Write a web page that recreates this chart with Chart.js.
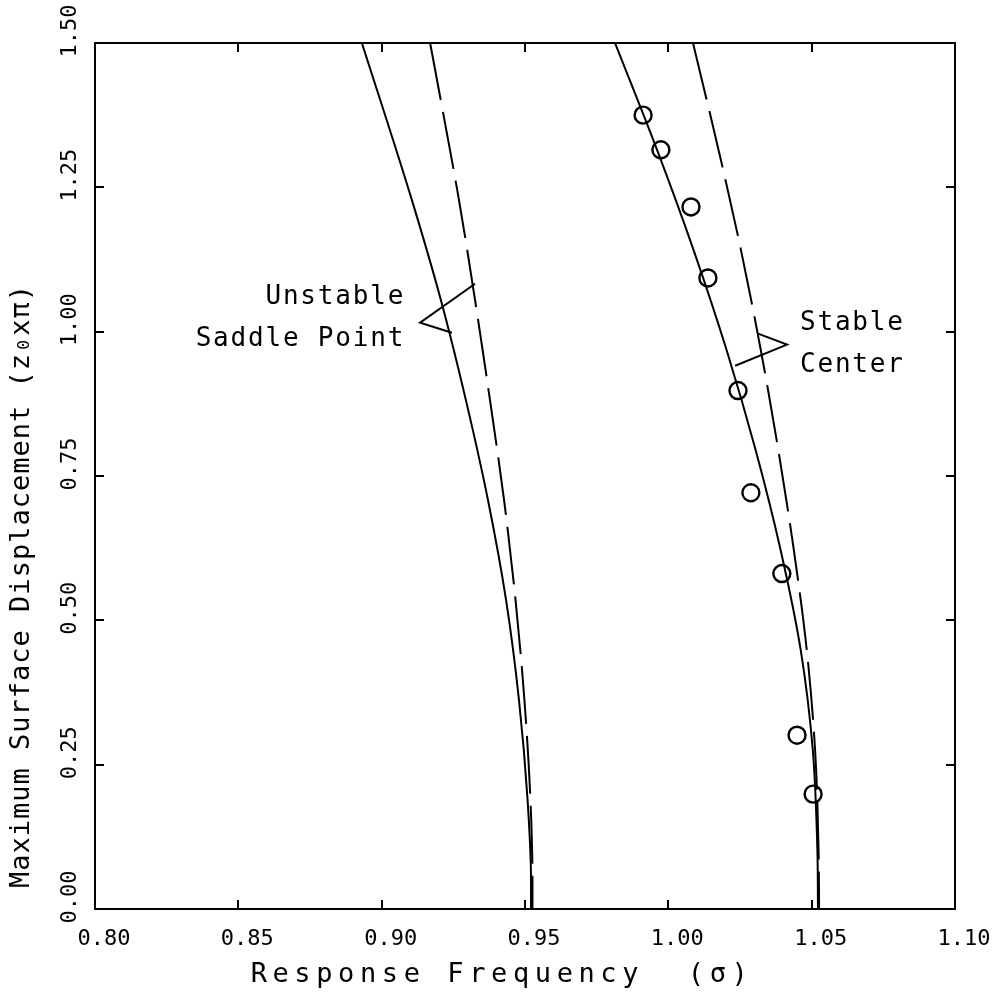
<!DOCTYPE html>
<html>
<head>
<meta charset="utf-8">
<script src="https://cdn.jsdelivr.net/npm/chart.js@4.4.0/dist/chart.umd.min.js"></script>
<style>
  html, body { margin: 0; padding: 0; background: #fff; }
  #contenedor { width: 996px; height: 1004px; position: relative; }
</style>
</head>
<body>
<div id="contenedor"><canvas id="grafica"></canvas></div>
<script>
//punto silla (inestable): continua y discontinua
var sillaY            = [ 1.50, 1.227, 1.054, 0.881, 0.708, 0.535, 0.362, 0.189, 0.050, 0.00 ];
var sillaContinuaX    = [ 0.8931, 0.9106, 0.9207, 0.9294, 0.9371, 0.9434, 0.9479, 0.9509, 0.9521, 0.9521 ];
var sillaDiscontinuaX = [ 0.9169, 0.9270, 0.9326, 0.9378, 0.9427, 0.9467, 0.9498, 0.9519, 0.9526, 0.9526 ];

//centro (estable): continua y discontinua
var centroY            = [ 1.50, 1.313, 1.140, 0.967, 0.794, 0.621, 0.448, 0.275, 0.102, 0.00 ];
var centroContinuaX    = [ 0.9814, 0.9962, 1.0089, 1.0204, 1.0305, 1.0392, 1.0462, 1.0504, 1.0520, 1.0522 ];
var centroDiscontinuaX = [ 1.0086, 1.0176, 1.0254, 1.0323, 1.0384, 1.0438, 1.0483, 1.0512, 1.0524, 1.0526 ];

//mediciones (circulos)
var medidasX = [ 0.9912, 0.9974, 1.0079, 1.0138, 1.0243, 1.0288, 1.0396, 1.0449, 1.0505 ];
var medidasY = [ 1.375, 1.315, 1.216, 1.093, 0.898, 0.721, 0.581, 0.301, 0.199 ];

//ejes
var ejeX = { min: 0.80, max: 1.10, paso: 0.05 };
var ejeY = { min: 0.00, max: 1.50, paso: 0.25 };

//etiquetas con su puntero: [ vertice, extremo discontinua, extremo continua ]
var etiquetaSilla  = [ 'Unstable', 'Saddle Point' ];
var punteroSilla   = [ [ 0.9134, 1.0156 ], [ 0.9326, 1.083 ], [ 0.9245, 0.998 ] ];
var etiquetaCentro = [ 'Stable', 'Center' ];
var punteroCentro  = [ [ 1.0414, 0.9775 ], [ 1.0313, 0.9965 ], [ 1.0233, 0.941 ] ];

var tituloX = 'Response Frequency  (\u03c3)';
var tituloY = 'Maximum Surface Displacement (z\u2080x\u03c0)';

var fuente = '"DejaVu Sans Mono", "Liberation Mono", monospace';

function puntos ( xs, ys )
{
  return xs.map( ( x, i ) => ( { x: x, y: ys[ i ] } ) );
}

function curva ( xs, ys, discontinua )
{
  return {
    data: puntos( xs, ys ),
    indexAxis: 'y',
    showLine: true,
    borderColor: '#000',
    borderWidth: 2,
    borderDash: discontinua ? [ 58, 12 ] : [ ],
    pointRadius: 0,
    cubicInterpolationMode: 'monotone',
    fill: false,
  };
}

//textos y punteros dibujados sobre el area de la grafica
var anotaciones =
{
  id: 'anotaciones',
  afterDraw: function( chart )
  {
    var ctx = chart.ctx;
    var sx = chart.scales.x;
    var sy = chart.scales.y;
    var px = p => [ sx.getPixelForValue( p[ 0 ] ), sy.getPixelForValue( p[ 1 ] ) ];

    ctx.save( );
    ctx.strokeStyle = '#000';
    ctx.lineWidth = 2;
    [ punteroSilla, punteroCentro ].forEach( pt =>
    {
      var v = px( pt[ 0 ] ), a = px( pt[ 1 ] ), b = px( pt[ 2 ] );
      ctx.beginPath( );
      ctx.moveTo( a[ 0 ], a[ 1 ] );
      ctx.lineTo( v[ 0 ], v[ 1 ] );
      ctx.lineTo( b[ 0 ], b[ 1 ] );
      ctx.stroke( );
    });

    ctx.fillStyle = '#000';
    ctx.textBaseline = 'middle';
    ctx.font = '26px ' + fuente;
    ctx.letterSpacing = '1.8px';

    var vs = px( punteroSilla[ 0 ] );
    ctx.textAlign = 'right';
    ctx.fillText( etiquetaSilla[ 0 ], vs[ 0 ] - 15, vs[ 1 ] - 25 );
    ctx.fillText( etiquetaSilla[ 1 ], vs[ 0 ] - 15, vs[ 1 ] + 17 );

    var vc = px( punteroCentro[ 0 ] );
    ctx.textAlign = 'left';
    ctx.fillText( etiquetaCentro[ 0 ], vc[ 0 ] + 13, vc[ 1 ] - 21 );
    ctx.fillText( etiquetaCentro[ 1 ], vc[ 0 ] + 13, vc[ 1 ] + 21 );

    //titulos de los ejes
    ctx.font = '27px ' + fuente;
    ctx.letterSpacing = '5.6px';
    ctx.textAlign = 'center';
    ctx.fillText( tituloX, 502, 975 );

    ctx.letterSpacing = '1px';
    ctx.translate( 22, 586 );
    ctx.rotate( -Math.PI / 2 );
    ctx.fillText( tituloY, 0, 0 );
    ctx.restore( );
  }
};

var rejilla =
{
  display: true,
  drawOnChartArea: false,
  drawTicks: true,
  tickLength: -9,
  color: '#000',
  lineWidth: 2,
};

var borde = { display: true, color: '#000', width: 2 };

var grafica = new Chart( document.getElementById( 'grafica' ),
{
  type: 'scatter',
  data:
  {
    datasets:
    [
      curva( sillaContinuaX, sillaY, false ),
      curva( sillaDiscontinuaX, sillaY, true ),
      curva( centroContinuaX, centroY, false ),
      curva( centroDiscontinuaX, centroY, true ),
      {
        data: puntos( medidasX, medidasY ),
        pointStyle: 'circle',
        pointRadius: 8.5,
        pointBorderWidth: 2.4,
        borderColor: '#000',
        backgroundColor: 'rgba(0,0,0,0)',
        showLine: false,
      },
    ]
  },
  options:
  {
    responsive: true,
    maintainAspectRatio: false,
    devicePixelRatio: 1,
    animation: false,
    layout: { padding: { top: 43, right: 41, left: 0, bottom: 0 } },
    plugins: { legend: { display: false }, tooltip: { enabled: false } },
    scales:
    {
      x:
      {
        type: 'linear',
        position: 'bottom',
        min: ejeX.min,
        max: ejeX.max,
        grid: rejilla,
        border: borde,
        ticks:
        {
          stepSize: ejeX.paso,
          color: '#000',
          font: { family: fuente, size: 22 },
          padding: 26,
          labelOffset: 9,
          maxRotation: 0,
          callback: v => Number( v ).toFixed( 2 ),
        },
        afterFit: s => { s.height = 95; s.paddingLeft = 0; s.paddingRight = 0; },
      },
      y:
      {
        type: 'linear',
        position: 'left',
        min: ejeY.min,
        max: ejeY.max,
        grid: rejilla,
        border: borde,
        ticks:
        {
          stepSize: ejeY.paso,
          color: '#000',
          font: { family: fuente, size: 22 },
          padding: 7,
          labelOffset: -12,
          minRotation: 90,
          maxRotation: 90,
          crossAlign: 'center',
          callback: v => Number( v ).toFixed( 2 ),
        },
        afterFit: s => { s.width = 95; s.paddingTop = 0; s.paddingBottom = 0; },
      },
      xArriba:
      {
        type: 'linear',
        position: 'top',
        min: ejeX.min,
        max: ejeX.max,
        grid: rejilla,
        border: borde,
        ticks: { display: false, stepSize: ejeX.paso },
        afterFit: s => { s.height = 0; },
      },
      yDerecha:
      {
        type: 'linear',
        position: 'right',
        min: ejeY.min,
        max: ejeY.max,
        grid: rejilla,
        border: borde,
        ticks: { display: false, stepSize: ejeY.paso },
        afterFit: s => { s.width = 0; },
      },
    }
  },
  plugins: [ anotaciones ]
});
</script>
</body>
</html>
